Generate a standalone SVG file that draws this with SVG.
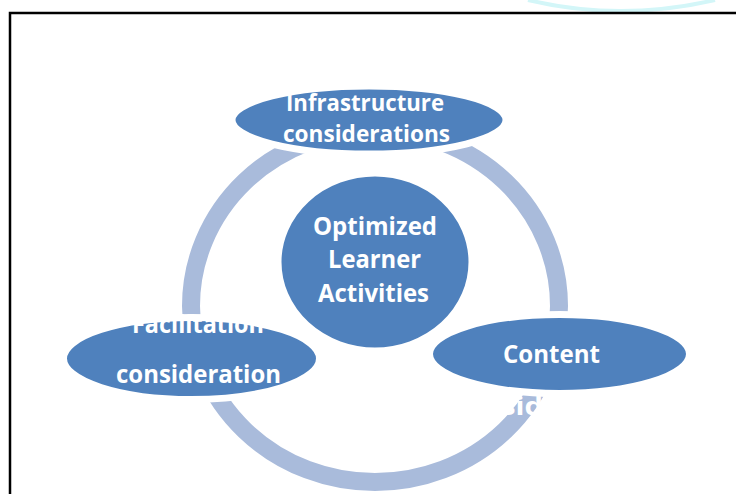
<svg xmlns="http://www.w3.org/2000/svg" width="736" height="494" viewBox="0 0 736 494">
<style>
.node{fill:#4F81BD;stroke:#FFFFFF;stroke-width:7}
.lbl{font-family:"Open Sans","Noto Sans","Liberation Sans",sans-serif;font-weight:bold;font-size:25px;fill:#FFFFFF;text-anchor:middle}
.sm{font-size:23px}
.ring{fill:none;stroke:#A9BBDB;stroke-width:18}
</style>
<rect x="0" y="0" width="736" height="494" fill="#FFFFFF"/>
<path d="M528,0 Q620,22 715,0" fill="none" stroke="#D3F6F8" stroke-width="4"/>
<path d="M10,494 V13 H736" fill="none" stroke="#000000" stroke-width="2.5"/>
<g id="connectors">
<ellipse class="ring" cx="375" cy="306" rx="184" ry="176"/>
</g>
<g id="infrastructure">
<ellipse class="node" cx="369" cy="120" rx="137" ry="34"/>
<text class="lbl sm" x="365" y="111" textLength="158" lengthAdjust="spacingAndGlyphs">Infrastructure</text>
<text class="lbl sm" x="366.5" y="142" textLength="167" lengthAdjust="spacingAndGlyphs">considerations</text>
</g>
<g id="facilitation">
<ellipse class="node" cx="191.5" cy="358.5" rx="128" ry="41"/>
<text class="lbl" x="198" y="333" textLength="132" lengthAdjust="spacingAndGlyphs">Facilitation</text>
<text class="lbl" x="198.5" y="383" textLength="165" lengthAdjust="spacingAndGlyphs">consideration</text>
</g>
<g id="content">
<ellipse class="node" cx="559.5" cy="354" rx="130" ry="39.5"/>
<text class="lbl" x="551.5" y="363" textLength="97" lengthAdjust="spacingAndGlyphs">Content</text>
<text class="lbl" x="522" y="415" textLength="42" lengthAdjust="spacingAndGlyphs">sid</text>
</g>
<g id="center">
<ellipse class="node" cx="375" cy="262" rx="97" ry="89"/>
<text class="lbl" x="375" y="235" textLength="124" lengthAdjust="spacingAndGlyphs">Optimized</text>
<text class="lbl" x="374.5" y="268" textLength="93" lengthAdjust="spacingAndGlyphs">Learner</text>
<text class="lbl" x="373.5" y="302" textLength="111" lengthAdjust="spacingAndGlyphs">Activities</text>
</g>
</svg>
